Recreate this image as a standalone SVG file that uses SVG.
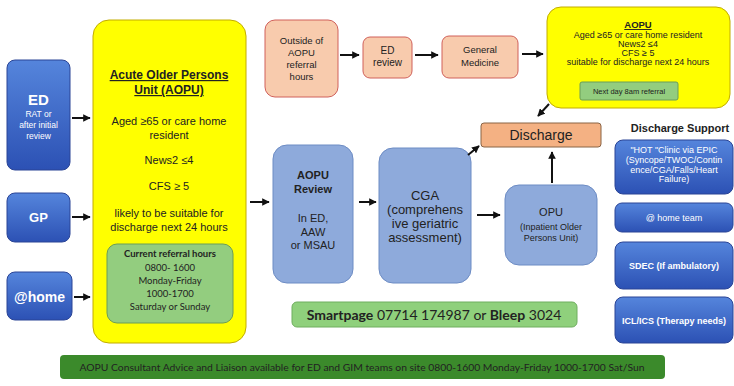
<svg xmlns="http://www.w3.org/2000/svg" width="734" height="386" viewBox="0 0 734 386">
<defs>
<linearGradient id="blueg" x1="0" y1="0" x2="0" y2="1">
<stop offset="0" stop-color="#5585dc"/>
<stop offset="1" stop-color="#2c51b4"/>
</linearGradient>
<marker id="ah" viewBox="0 0 10 10" refX="9" refY="5" markerWidth="3.8" markerHeight="3.8" orient="auto">
<path d="M0,0 L10,5 L0,10 z" fill="#111"/>
</marker>
<style>
.blue{fill:url(#blueg);stroke:#2a4496;stroke-width:1}
.steel{fill:#8eaadb;stroke:#6d8cc4;stroke-width:1}
.salmon{fill:#f8cbad;stroke:#d0605a;stroke-width:1}
.yel{fill:#ffff00;stroke:#c2ac00;stroke-width:1}
.grn{fill:#93cd7f;stroke:#6b9d58;stroke-width:1}
.t{font-family:"Liberation Sans",Arial,sans-serif;text-anchor:middle;fill:#222}
.c{font-family:Lato,"Open Sans",sans-serif;text-anchor:middle;fill:#222}
.w{fill:#fff}
.b{font-weight:bold}
.u{text-decoration:underline}
.conn line{stroke:#111;stroke-width:2;marker-end:url(#ah)}
</style>
</defs>
<rect width="734" height="386" fill="#fff"/>

<g id="ed">
<rect class="blue" x="7" y="60" width="63" height="110" rx="8"/>
<text class="t w b" x="38.5" y="105" font-size="15">ED</text>
<text class="t w" x="38.5" y="117" font-size="8.5">RAT or</text>
<text class="t w" x="38.5" y="128" font-size="8.5">after initial</text>
<text class="t w" x="38.5" y="139" font-size="8.5">review</text>
</g>
<g id="gp">
<rect class="blue" x="7" y="193" width="63" height="49" rx="8"/>
<text class="t w b" x="38.5" y="222" font-size="13">GP</text>
</g>
<g id="home">
<rect class="blue" x="7" y="272" width="65" height="48" rx="8"/>
<text class="t w b" x="39.5" y="302" font-size="14">@home</text>
</g>

<g id="aopu-main">
<rect class="yel" x="93" y="20" width="153" height="323" rx="16"/>
<text class="t b u" x="169" y="79" font-size="12">Acute Older Persons</text>
<text class="t b u" x="169" y="94" font-size="12">Unit (AOPU)</text>
<text class="t" x="169" y="125" font-size="11">Aged ≥65 or care home</text>
<text class="t" x="169" y="139" font-size="11">resident</text>
<text class="t" x="169" y="164" font-size="11">News2 ≤4</text>
<text class="t" x="169" y="190" font-size="11">CFS ≥ 5</text>
<text class="t" x="169" y="217" font-size="11">likely to be suitable for</text>
<text class="t" x="169" y="231" font-size="11">discharge next 24 hours</text>
<rect class="grn" x="107" y="244" width="126" height="79" rx="10"/>
<text class="c b" x="170" y="257" font-size="9.5">Current referral hours</text>
<text class="c" x="170" y="271" font-size="9.5">0800- 1600</text>
<text class="c" x="170" y="284" font-size="9.5">Monday-Friday</text>
<text class="c" x="170" y="297" font-size="9.5">1000-1700</text>
<text class="c" x="170" y="310" font-size="9.5">Saturday or Sunday</text>
</g>

<g id="outside">
<rect class="salmon" x="265" y="20" width="73" height="77" rx="10"/>
<text class="t" x="301.5" y="44" font-size="9.5">Outside of</text>
<text class="t" x="301.5" y="56" font-size="9.5">AOPU</text>
<text class="t" x="301.5" y="68" font-size="9.5">referral</text>
<text class="t" x="301.5" y="80" font-size="9.5">hours</text>
</g>
<g id="ed-review">
<rect class="salmon" x="363" y="37" width="49" height="41" rx="7"/>
<text class="t" x="387.5" y="54" font-size="10">ED</text>
<text class="t" x="387.5" y="66" font-size="10">review</text>
</g>
<g id="gen-med">
<rect class="salmon" x="442" y="36" width="76" height="42" rx="7"/>
<text class="t" x="480" y="53" font-size="9.5">General</text>
<text class="t" x="480" y="66" font-size="9.5">Medicine</text>
</g>

<g id="aopu-small">
<rect class="yel" x="547" y="7" width="183" height="101" rx="14"/>
<text class="t b u" x="638" y="28" font-size="9.5">AOPU</text>
<text class="t" x="638" y="37.5" font-size="9">Aged ≥65 or care home resident</text>
<text class="t" x="638" y="46.5" font-size="9">News2 ≤4</text>
<text class="t" x="638" y="55.5" font-size="9">CFS ≥ 5</text>
<text class="t" x="638" y="64.5" font-size="9">suitable for discharge next 24 hours</text>
<rect class="grn" x="580" y="82" width="98" height="18" rx="2"/>
<text class="t" x="629" y="94" font-size="7.5">Next day 8am referral</text>
</g>

<g id="discharge">
<rect x="481" y="123" width="120" height="24" rx="3" fill="#f4b183" stroke="#8a6445" stroke-width="1"/>
<text class="t" x="541" y="140" font-size="14" fill="#3a2a1a">Discharge</text>
</g>

<g id="aopu-review">
<rect class="steel" x="273" y="145" width="80" height="138" rx="14"/>
<text class="t b" x="313" y="179" font-size="11">AOPU</text>
<text class="t b" x="313" y="193" font-size="11">Review</text>
<text class="t" x="313" y="222" font-size="11">In ED,</text>
<text class="t" x="313" y="236" font-size="11">AAW</text>
<text class="t" x="313" y="249" font-size="11">or MSAU</text>
</g>
<g id="cga">
<rect class="steel" x="379" y="148" width="92" height="135" rx="14"/>
<text class="t" x="425" y="200" font-size="13">CGA</text>
<text class="t" x="425" y="214" font-size="13">(comprehens</text>
<text class="t" x="425" y="228" font-size="13">ive geriatric</text>
<text class="t" x="425" y="242" font-size="13">assessment)</text>
</g>
<g id="opu">
<rect class="steel" x="505" y="185" width="92" height="80" rx="14"/>
<text class="t" x="551" y="216" font-size="11">OPU</text>
<text class="t" x="551" y="230" font-size="9">(Inpatient Older</text>
<text class="t" x="551" y="241" font-size="9">Persons Unit)</text>
</g>

<g id="discharge-support">
<text class="t b" x="680" y="132" font-size="11">Discharge Support</text>
</g>
<g id="hot-clinic">
<rect class="blue" x="615" y="140" width="118" height="54" rx="8"/>
<text class="t w" x="674" y="153" font-size="9">"HOT "Clinic via EPIC</text>
<text class="t w" x="674" y="163" font-size="9">(Syncope/TWOC/Contin</text>
<text class="t w" x="674" y="172.5" font-size="9">ence/CGA/Falls/Heart</text>
<text class="t w" x="674" y="182" font-size="9">Failure)</text>
</g>
<g id="home-team">
<rect class="blue" x="615" y="203" width="118" height="29" rx="7"/>
<text class="t w" x="674" y="221" font-size="9">@ home  team</text>
</g>
<g id="sdec">
<rect class="blue" x="615" y="242" width="118" height="47" rx="8"/>
<text class="t w b" x="674" y="269" font-size="9">SDEC (If ambulatory)</text>
</g>
<g id="icl">
<rect class="blue" x="615" y="297" width="118" height="46" rx="8"/>
<text class="t w b" x="674" y="324" font-size="9">ICL/ICS (Therapy needs)</text>
</g>

<g id="smartpage">
<rect x="292" y="302" width="285" height="25" rx="5" fill="#8fd07c" stroke="#6fae5e" stroke-width="1"/>
<text class="c" x="434" y="319.5" font-size="14" fill="#1a1a1a"><tspan font-weight="bold">Smartpage</tspan> 07714 174987 or <tspan font-weight="bold">Bleep</tspan> 3024</text>
</g>

<g id="liaison-bar">
<rect x="60" y="355" width="605" height="24" rx="4" fill="#3b8a2b"/>
<text class="c" x="362" y="371" font-size="10" fill="#fff" textLength="565" lengthAdjust="spacingAndGlyphs">AOPU Consultant Advice and Liaison available for ED and GIM teams on site 0800-1600 Monday-Friday 1000-1700 Sat/Sun</text>
</g>

<g class="conn" id="connectors">
<line x1="72" y1="118" x2="90" y2="118"/>
<line x1="72" y1="217" x2="90" y2="217"/>
<line x1="74" y1="297" x2="90" y2="297"/>
<line x1="340" y1="55" x2="359" y2="55"/>
<line x1="415" y1="55" x2="438" y2="55"/>
<line x1="522" y1="54" x2="543" y2="54"/>
<line x1="549" y1="104" x2="538" y2="116"/>
<line x1="250" y1="202" x2="269" y2="202"/>
<line x1="359" y1="202" x2="376" y2="202"/>
<line x1="477" y1="215" x2="500" y2="215"/>
<line x1="468" y1="155" x2="479" y2="146"/>
<line x1="552" y1="183" x2="552" y2="152"/>
</g>
</svg>
